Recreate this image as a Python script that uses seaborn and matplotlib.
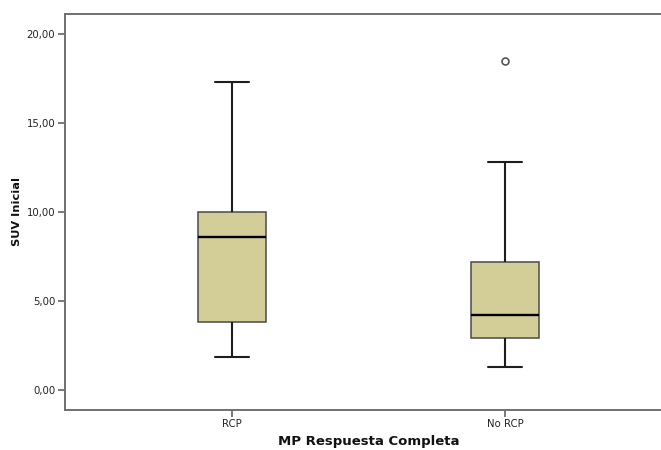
import matplotlib
matplotlib.use("Agg")
import matplotlib.pyplot as plt
import numpy as np
import pandas as pd
import seaborn as sns
from matplotlib.ticker import FixedLocator, FuncFormatter

# SUV inicial por grupo de respuesta
groups = ["RCP", "No RCP"]
suv_rcp = [1.87, 2.90, 3.84, 6.20, 8.58, 9.30, 10.00, 13.50, 17.30]
suv_no_rcp = [1.27, 2.10, 2.94, 3.60, 4.21, 5.50, 7.19, 12.79, 18.50]
y_ticks = [0, 5, 10, 15, 20]

df = pd.DataFrame({
    "MP Respuesta Completa": [groups[0]] * len(suv_rcp) + [groups[1]] * len(suv_no_rcp),
    "SUV Inicial": suv_rcp + suv_no_rcp,
})

sns.set_theme(style="white")
plt.rcParams["font.family"] = ["DejaVu Sans"]

fig = plt.figure(figsize=(6.61, 4.5), dpi=100)
# the plot area runs past the right edge of the canvas
ax = fig.add_axes([65 / 661, 40.5 / 450, (672 - 65) / 661, (409.5 - 14) / 450])

sns.boxplot(
    data=df, x="MP Respuesta Completa", y="SUV Inicial", order=groups,
    color="#D3CE97", saturation=1, width=0.25, ax=ax,
    boxprops=dict(edgecolor="#4a4a4a", linewidth=1.1),
    whiskerprops=dict(color="#1e1e1e", linewidth=1.5),
    capprops=dict(color="#1e1e1e", linewidth=1.5),
    medianprops=dict(color="#000000", linewidth=1.7),
    flierprops=dict(marker="o", markersize=5, markerfacecolor="none",
                    markeredgecolor="#555555", markeredgewidth=1.2),
)

ax.set_xlim(-0.612, 1.611)
ax.set_ylim(-1.096, 21.12)
ax.yaxis.set_major_locator(FixedLocator(y_ticks))
ax.yaxis.set_major_formatter(FuncFormatter(lambda v, _: f"{v:.2f}".replace(".", ",")))

for side in ["left", "bottom", "top"]:
    ax.spines[side].set_color("#707070")
    ax.spines[side].set_linewidth(1.4)
ax.spines["right"].set_visible(False)

ax.tick_params(axis="both", which="major", direction="out", bottom=True, left=True,
               length=5, width=1.1, color="#555555", labelsize=7.3, pad=2,
               labelcolor="#222222")

ax.set_xlabel("MP Respuesta Completa", fontsize=9.5, fontweight="bold",
              color="#111111", labelpad=4)
ax.set_ylabel("SUV Inicial", fontsize=8.2, fontweight="bold", color="#111111",
              labelpad=3)

fig.savefig("out.png", dpi=100)
